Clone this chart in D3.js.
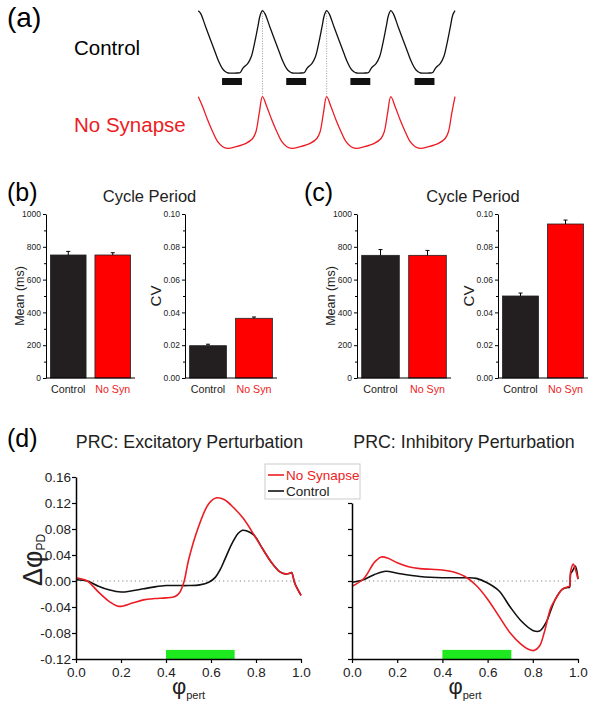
<!DOCTYPE html>
<html><head><meta charset="utf-8">
<script src="https://cdn.jsdelivr.net/npm/d3@7"></script>
<style>body{margin:0;background:#fff}svg{display:block;font-family:Arial,"Liberation Sans",sans-serif}</style>
</head><body><svg id="c" width="599" height="711"></svg>
<script>
// ---------- DATA ----------
// (a) one cycle of each membrane-potential trace (phase 0..1 from peak to peak, normalized voltage)
const ctlCyclePhase = [0,0.036,0.114,0.191,0.269,0.321,0.374,0.42,0.467,0.591,0.654,0.694,0.772,0.825,0.876,0.928,0.965,1.0];
const ctlCycleV     = [1.0,0.958,0.743,0.53,0.316,0.181,0.075,0.024,0,0,0.008,0.075,0.156,0.262,0.477,0.743,0.931,1.0];
const nsCyclePhase  = [0,0.068,0.146,0.224,0.302,0.38,0.458,0.587,0.742,0.847,0.898,0.949,1.0];
const nsCycleV      = [1.0,0.806,0.548,0.322,0.128,0.031,0,0.031,0.095,0.19,0.322,0.678,1.0];
const nCycles = 4;
const burstStart = [0.37,1.37,2.37,3.37];
const burstEnd   = [0.68,1.68,2.68,3.68];
const alignMarks = [1,2];

// (b),(c) bar charts
const barCategories = ["Control","No Syn"];
const bMeanVals = [750,750], bMeanErr = [22,14];
const bCvVals   = [0.0197,0.0364], bCvErr = [0.0009,0.0008];
const cMeanVals = [748,748], cMeanErr = [35,30];
const cCvVals   = [0.0500,0.0939], cCvErr = [0.0018,0.0024];
const meanTicks = [0,200,400,600,800,1000];
const meanMinor = [100,300,500,700,900];
const cvTicks   = [0,0.02,0.04,0.06,0.08,0.10];
const cvMinor   = [0.01,0.03,0.05,0.07,0.09];

// (d) phase response curves
const excNsX  = [0,0.05,0.1,0.15,0.19,0.25,0.3,0.35,0.4,0.44,0.46,0.48,0.5,0.54,0.59,0.625,0.66,0.7,0.744,0.8,0.832,0.87,0.907,0.93,0.951,0.958,0.973,1.0];
const excNsY  = [0.005,0,-0.017,-0.032,-0.039,-0.034,-0.029,-0.027,-0.026,-0.024,-0.018,-0.001,0.032,0.079,0.119,0.128,0.125,0.113,0.096,0.066,0.048,0.028,0.014,0.011,0.012,0.013,-0.004,-0.022];
const excCtlX = [0,0.05,0.1,0.15,0.2,0.25,0.3,0.35,0.4,0.45,0.5,0.55,0.59,0.62,0.64,0.66,0.68,0.7,0.72,0.74,0.76,0.79,0.832,0.87,0.907,0.93,0.951,0.958,0.973,1.0];
const excCtlY = [0.002,0,-0.008,-0.014,-0.017,-0.015,-0.012,-0.009,-0.007,-0.007,-0.007,-0.006,-0.002,0.006,0.017,0.032,0.048,0.062,0.073,0.078,0.077,0.071,0.048,0.028,0.014,0.011,0.012,0.013,-0.004,-0.022];
const inhNsX  = [0,0.05,0.1,0.13,0.16,0.2,0.25,0.3,0.35,0.4,0.45,0.5,0.55,0.6,0.65,0.7,0.75,0.78,0.805,0.83,0.85,0.88,0.9,0.93,0.955,0.962,0.968,0.979,0.99,1.0];
const inhNsY  = [-0.008,0.003,0.029,0.037,0.035,0.028,0.022,0.019,0.018,0.017,0.014,0.007,-0.007,-0.028,-0.054,-0.080,-0.098,-0.105,-0.107,-0.100,-0.080,-0.041,-0.028,-0.013,-0.009,-0.008,0.016,0.026,0.016,0.003];
const inhCtlX = [0,0.05,0.1,0.15,0.2,0.3,0.4,0.5,0.55,0.6,0.65,0.7,0.75,0.8,0.83,0.86,0.88,0.9,0.93,0.955,0.962,0.968,0.975,0.988,1.0];
const inhCtlY = [-0.002,0.002,0.010,0.015,0.012,0.007,0.005,0.005,0.004,-0.003,-0.015,-0.040,-0.062,-0.076,-0.077,-0.063,-0.045,-0.028,-0.013,-0.010,-0.010,0.012,0.015,0.023,0.003];
const prcYTicks = [-0.12,-0.08,-0.04,0,0.04,0.08,0.12,0.16];
const prcYTicksR = [-0.12,-0.08,-0.04,0,0.04,0.08,0.12];
const prcXTicks = [0,0.2,0.4,0.6,0.8,1.0];
const stimWindow = [0.4,0.705];
const stimBarTop = -0.106;

// ---------- DRAW ----------
const RED = "#ec1c24", BARRED = "#ff0000", BARBLK = "#231f20";
const svg = d3.select("#c");

// ===== (a) =====
function buildTrace(ph, v){
  const pts=[];
  for(let k=0;k<nCycles;k++){
    ph.forEach((p,i)=>{ if(k>0 && i===0) return; pts.push([k+p, v[i]]); });
  }
  return pts;
}
const xA = d3.scaleLinear().domain([0,nCycles]).range([198.3,455]);
const yCtl = d3.scaleLinear().domain([0,1]).range([73,10.7]);
const yNS = d3.scaleLinear().domain([0,1]).range([148.3,96.7]);
svg.append("g").selectAll("line").data(alignMarks).join("line")
  .attr("x1",d=>xA(d)).attr("x2",d=>xA(d)).attr("y1",yCtl(1)).attr("y2",yNS(1))
  .attr("stroke","#999").attr("stroke-width",1).attr("stroke-dasharray","1,1.5");
svg.append("path").datum(buildTrace(ctlCyclePhase,ctlCycleV))
  .attr("d",d3.line().x(d=>xA(d[0])).y(d=>yCtl(d[1])).curve(d3.curveCatmullRom.alpha(0.5)))
  .attr("fill","none").attr("stroke","#111").attr("stroke-width",1.3);
svg.append("path").datum(buildTrace(nsCyclePhase,nsCycleV))
  .attr("d",d3.line().x(d=>xA(d[0])).y(d=>yNS(d[1])).curve(d3.curveCatmullRom.alpha(0.5)))
  .attr("fill","none").attr("stroke",RED).attr("stroke-width",1.3);
svg.append("g").selectAll("rect").data(burstStart).join("rect")
  .attr("x",d=>xA(d)).attr("width",(d,i)=>xA(burstEnd[i])-xA(d))
  .attr("y",78).attr("height",7).attr("fill","#111");
svg.append("text").attr("x",7).attr("y",27).attr("font-size",28).text("(a)");
svg.append("text").attr("x",74).attr("y",55).attr("font-size",20.5).text("Control");
svg.append("text").attr("x",74).attr("y",132).attr("font-size",20.5).attr("fill",RED).text("No Synapse");

// ===== (b),(c) =====
const yMean = d3.scaleLinear().domain([0,1000]).range([378,214]);
const yCv = d3.scaleLinear().domain([0,0.10]).range([378,214]);
function barChart(range, yScale, vals, errs, ticks, minor, fmt, label, labelSize, labelOff){
  const g = svg.append("g");
  const x = d3.scaleBand().domain(barCategories).range(range).paddingInner(0.2).paddingOuter(0.1);
  g.selectAll("rect").data(vals).join("rect")
    .attr("x",(d,i)=>x(barCategories[i])).attr("width",x.bandwidth())
    .attr("y",d=>yScale(d)).attr("height",d=>yScale(0)-yScale(d))
    .attr("fill",(d,i)=>i===0?BARBLK:BARRED).attr("stroke","#222").attr("stroke-width",0.8);
  g.selectAll("line.err").data(vals).join("line").attr("class","err")
    .attr("x1",(d,i)=>x(barCategories[i])+x.bandwidth()/2).attr("x2",(d,i)=>x(barCategories[i])+x.bandwidth()/2)
    .attr("y1",d=>yScale(d)).attr("y2",(d,i)=>yScale(d+errs[i])).attr("stroke","#000").attr("stroke-width",1);
  g.selectAll("line.cap").data(vals).join("line").attr("class","cap")
    .attr("x1",(d,i)=>x(barCategories[i])+x.bandwidth()/2-2).attr("x2",(d,i)=>x(barCategories[i])+x.bandwidth()/2+2)
    .attr("y1",(d,i)=>yScale(d+errs[i])).attr("y2",(d,i)=>yScale(d+errs[i])).attr("stroke","#000").attr("stroke-width",1);
  const ax = g.append("g").attr("transform",`translate(${range[0]},0)`)
    .call(d3.axisLeft(yScale).tickValues(ticks).tickSize(3).tickSizeOuter(0).tickPadding(2).tickFormat(fmt));
  ax.selectAll("text").attr("font-size",8.5).attr("font-family","Arial, Liberation Sans").attr("fill","#222");
  const mx = g.append("g").attr("transform",`translate(${range[0]},0)`)
    .call(d3.axisLeft(yScale).tickValues(minor).tickSize(2).tickSizeOuter(0).tickFormat(""));
  mx.select(".domain").remove();
  g.append("line").attr("x1",range[0]).attr("x2",range[1]).attr("y1",yScale(0)).attr("y2",yScale(0)).attr("stroke","#000");
  g.selectAll("text.cat").data(barCategories).join("text").attr("class","cat")
    .attr("x",d=>x(d)+x.bandwidth()/2).attr("y",393).attr("text-anchor","middle").attr("font-size",10.7)
    .attr("fill",(d,i)=>i===0?"#222":RED).text(d=>d);
  g.append("text").attr("transform",`translate(${range[0]-labelOff},296) rotate(-90)`)
    .attr("text-anchor","middle").attr("font-size",labelSize).attr("fill","#222").text(label);
}
const fMean = d=>String(d), fCv = d=>d.toFixed(2);
barChart([46,135], yMean, bMeanVals, bMeanErr, meanTicks, meanMinor, fMean, "Mean (ms)", 12.5, 22);
barChart([185,277], yCv, bCvVals, bCvErr, cvTicks, cvMinor, fCv, "CV", 15, 24.5);
barChart([357,451], yMean, cMeanVals, cMeanErr, meanTicks, meanMinor, fMean, "Mean (ms)", 12.5, 22);
barChart([498,588], yCv, cCvVals, cCvErr, cvTicks, cvMinor, fCv, "CV", 15, 24.5);
svg.append("text").attr("x",7).attr("y",201).attr("font-size",25).text("(b)");
svg.append("text").attr("x",304).attr("y",201).attr("font-size",25).text("(c)");
svg.append("text").attr("x",149.5).attr("y",202).attr("text-anchor","middle").attr("font-size",16.5).attr("fill","#222").text("Cycle Period");
svg.append("text").attr("x",473).attr("y",202).attr("text-anchor","middle").attr("font-size",16.5).attr("fill","#222").text("Cycle Period");

// ===== (d) =====
const yP = d3.scaleLinear().domain([-0.12,0.16]).range([659,477]);
const yPR = d3.scaleLinear().domain([-0.12,0.12]).range([yP(-0.12),yP(0.12)]);
function prc(range, yAxisScale, labels, ticksY, series, title){
  const g = svg.append("g");
  const x = d3.scaleLinear().domain([0,1]).range(range);
  g.append("line").attr("x1",x(0)).attr("x2",x(1)).attr("y1",yP(0)).attr("y2",yP(0))
    .attr("stroke","#888").attr("stroke-width",1).attr("stroke-dasharray","1.2,3");
  g.append("rect").attr("x",x(stimWindow[0])).attr("width",x(stimWindow[1])-x(stimWindow[0]))
    .attr("y",yP(stimBarTop)).attr("height",yP(-0.12)-yP(stimBarTop)).attr("fill","#1ee81e");
  series.forEach(s=>{
    g.append("path").datum(s.x.map((v,i)=>[v,s.y[i]]))
      .attr("d",d3.line().x(d=>x(d[0])).y(d=>yP(d[1])).curve(d3.curveCatmullRom.alpha(0.5)))
      .attr("fill","none").attr("stroke",s.color).attr("stroke-width",1.6);
  });
  const ya = g.append("g").attr("transform",`translate(${range[0]},0)`)
    .call(d3.axisLeft(yAxisScale).tickValues(ticksY).tickSize(4).tickSizeOuter(0).tickPadding(1)
      .tickFormat(labels? (d=>d.toFixed(2)) : ""));
  const xa = g.append("g").attr("transform",`translate(0,${yP(-0.12)})`)
    .call(d3.axisBottom(x).tickValues(prcXTicks).tickSize(4).tickSizeOuter(0).tickPadding(4).tickFormat(d=>d.toFixed(1)));
  [ya,xa].forEach(a=>{
    a.select(".domain").attr("stroke-width",1.5);
    a.selectAll(".tick line").attr("stroke-width",1.2);
    a.selectAll("text").attr("font-size",13.5).attr("font-family","Arial, Liberation Sans").attr("fill","#222");
  });
  const xl = g.append("text").attr("x",(range[0]+range[1])/2).attr("y",694).attr("text-anchor","middle").attr("fill","#222");
  xl.append("tspan").attr("font-size",22).text("φ");
  xl.append("tspan").attr("font-size",11).attr("dy",5).text("pert");
  g.append("text").attr("x",(range[0]+range[1])/2 + (title.startsWith("PRC: E")?1:-1)).attr("y",448)
    .attr("text-anchor","middle").attr("font-size",17.8).attr("fill","#222").text(title);
}
prc([76,301], yP, true, prcYTicks,
  [{x:excCtlX,y:excCtlY,color:"#111"},{x:excNsX,y:excNsY,color:RED}], "PRC: Excitatory Perturbation");
prc([352,578], yPR, false, prcYTicksR,
  [{x:inhCtlX,y:inhCtlY,color:"#111"},{x:inhNsX,y:inhNsY,color:RED}], "PRC: Inhibitory Perturbation");
svg.append("text").attr("x",7).attr("y",447).attr("font-size",25).text("(d)");
const yl = svg.append("text").attr("transform","translate(42,560) rotate(-90)").attr("text-anchor","middle").attr("fill","#222");
yl.append("tspan").attr("font-size",27).text("Δφ");
yl.append("tspan").attr("font-size",12).attr("dy",3).text("PD");

// legend
const lg = svg.append("g");
lg.append("rect").attr("x",265).attr("y",464).attr("width",95).attr("height",35).attr("fill","#fff").attr("stroke","#ccc");
const legendItems = [{t:"No Synapse",c:RED,y:475},{t:"Control",c:"#111",y:491}];
legendItems.forEach(it=>{
  lg.append("line").attr("x1",268).attr("x2",284).attr("y1",it.y).attr("y2",it.y).attr("stroke",it.c).attr("stroke-width",1.6);
  lg.append("text").attr("x",286).attr("y",it.y+5).attr("font-size",13.5).attr("fill",it.c==="#111"?"#222":it.c).text(it.t);
});
</script></body></html>
